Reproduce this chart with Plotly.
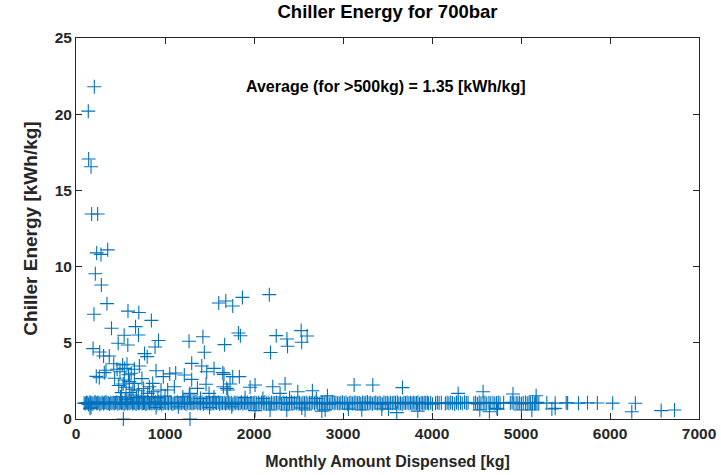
import plotly.graph_objects as go

# Scattered points (x = monthly amount dispensed [kg], y = chiller energy [kWh/kg])
scatter_x = [206, 138, 142, 169, 176, 243, 232, 281, 356, 217, 285, 348, 202,
             584, 706, 847, 399, 669, 541, 702, 474, 582, 927, 888, 192, 266, 310, 374, 770, 800,
             1604, 1683, 1761, 1870, 2172, 1270, 1426, 1442, 1670, 1825, 1847, 2186, 2250, 2370,
             2377, 2530, 2536, 2597,
             424, 524, 573, 461, 494, 547, 656, 712, 318, 337, 262, 228, 899, 981, 1053, 1120,
             1217, 1300, 434, 543, 599, 656, 741, 862, 824, 562, 599, 513, 806, 869, 955, 1030,
             1105, 1273, 618,
             1413, 1469, 1551, 1649, 1663, 1761, 1835, 1300, 1461, 1364, 1656, 1694, 1731, 1705,
             1956, 2012, 2211, 2349, 2293, 2492, 1281, 1495,
             2656, 2825, 3125, 3335, 3668, 4294, 4574, 4910, 5170,
             480, 530, 640, 700, 760, 590, 620, 500, 680, 740, 560, 850, 920, 1000, 1200, 1400,
             1550, 1900, 2100, 2400, 2700,
             169, 532, 1281, 2012, 2181, 2368, 2574, 2537, 2762, 2800, 3061, 3211, 3436, 3511,
             3604, 3840, 4537, 4645, 4736, 5005, 5122, 5347, 5384, 4729, 6245, 6575, 6725,
             157, 900, 1150, 1500, 1750]
scatter_y = [21.8, 20.2, 17.06, 16.55, 13.45, 13.45, 10.9, 10.8, 11.1, 9.53, 8.79, 7.57, 6.87,
             7.08, 6.99, 6.47, 5.95, 6.06, 5.5, 5.51, 4.97, 4.86, 5.15, 4.72, 4.62, 4.4, 4.13, 4.13, 4.29, 4.09,
             7.61, 7.74, 7.41, 7.98, 8.16, 5.1, 5.4, 4.38, 4.88, 5.64, 5.46, 4.36, 5.47, 5.25,
             4.77, 5.8, 5.04, 5.45,
             3.63, 3.55, 3.59, 3.26, 3.1, 3.32, 3.26, 3.48, 3.04, 3.2, 2.71, 2.8, 3.17, 2.78, 2.96, 3.02,
             2.89, 3.65, 2.67, 2.56, 2.45, 2.34, 2.65, 2.34, 2.12, 2.08, 1.73, 1.73, 1.68, 1.79, 1.9, 1.9,
             2.12, 1.57, 1.57,
             3.48, 3.1, 3.32, 3.04, 2.93, 2.78, 2.78, 2.6, 2.28, 2.01, 2.12, 2.01, 2.3, 1.9,
             2.08, 2.23, 2.12, 2.3, 1.68, 1.79, 1.68, 1.68,
             1.85, 1.52, 2.23, 2.23, 2.06, 1.68, 1.79, 1.64, 1.53,
             2.2, 2.3, 1.95, 1.85, 2.0, 2.9, 3.0, 1.45, 1.4, 1.5, 1.3, 1.45, 1.4, 1.5, 1.45, 1.35,
             1.45, 1.4, 1.35, 1.4, 1.35,
             0.77, 0.0, 0.0, 0.55, 0.59, 0.59, 0.59, 0.72, 0.52, 0.6, 0.65, 0.6, 0.66, 0.66,
             0.42, 0.52, 0.6, 0.48, 0.65, 0.59, 0.59, 0.66, 0.7, 0.7, 0.48, 0.55, 0.59,
             0.7, 0.75, 0.8, 0.75, 0.8]

# Dense band of points near 1 kWh/kg
band_x = [92, 105, 118, 132, 140, 155, 163, 178, 190, 204, 215,
          228, 240, 256, 268, 281, 295, 310, 322, 336, 348,
          362, 375, 390, 404, 418, 430, 445, 458, 470, 486,
          498, 512, 525, 540, 552, 566, 580, 594, 607, 620,
          634, 648, 660, 675, 688, 702, 715, 730, 744, 758,
          770, 785, 798, 812, 826, 840, 853, 868, 880, 895,
          910, 922, 936, 950, 963, 978, 992, 1008, 1025, 1040,
          1058, 1072, 1090, 1105, 1122, 1138, 1155, 1170, 1188, 1204,
          1220, 1236, 1252, 1270, 1285, 1302, 1318, 1335, 1350, 1368,
          1384, 1400, 1417, 1433, 1450, 1466, 1482, 1500, 1515, 1532,
          1548, 1565, 1580, 1598, 1614, 1630, 1646, 1664, 1680, 1696,
          1712, 1728, 1745, 1762, 1778, 1795, 1810, 1828, 1844, 1860,
          1876, 1893, 1910, 1925, 1942, 1958, 1975, 1992, 2010, 2030,
          2048, 2066, 2085, 2104, 2122, 2140, 2160, 2178, 2196, 2215,
          2234, 2252, 2270, 2290, 2308, 2326, 2345, 2364, 2382, 2400,
          2420, 2438, 2456, 2475, 2494, 2512, 2530, 2550, 2568, 2586,
          2605, 2624, 2642, 2660, 2680, 2698, 2716, 2735, 2754, 2772,
          2790, 2810, 2828, 2846, 2865, 2884, 2902, 2920, 2940, 2958,
          2976, 2995, 3015, 3034, 3052, 3070, 3090, 3108, 3126, 3145,
          3164, 3182, 3200, 3220, 3238, 3256, 3275, 3294, 3312, 3330,
          3350, 3368, 3386, 3405, 3424, 3442, 3460, 3480, 3498, 3516,
          3535, 3554, 3572, 3590, 3610, 3628, 3646, 3665, 3684, 3702,
          3720, 3740, 3758, 3775, 3790, 3808, 3825, 3842, 3860, 3878,
          3895, 3912, 3930, 3948, 3962, 3985, 4005, 4040, 4060, 4080,
          4105, 4150, 4170, 4190, 4210, 4230, 4255, 4275, 4295, 4320,
          4340, 4365, 4385, 4405, 4470, 4490, 4510, 4530, 4550, 4575,
          4595, 4615, 4640, 4660, 4685, 4705, 4725, 4745, 4765, 4805,
          4880, 4900, 4920, 4945, 4965, 4985, 5005, 5025, 5050, 5070,
          5090, 5105, 5130, 5150, 5165, 5180, 5200, 5290, 5384, 5508,
          5524, 5646, 5747, 5858, 6030, 6285]
band_y = [1.04, 1.02, 1.08, 1.05, 0.95, 1.10, 1.04, 1.07, 0.99, 1.06, 1.12,
          1.03, 1.05, 1.09, 0.97, 1.04, 1.08, 1.01, 1.06, 1.11, 1.03,
          1.05, 0.98, 1.07, 1.04, 1.09, 1.02, 1.06, 1.10, 1.00, 1.05,
          1.08, 1.03, 1.07, 0.96, 1.05, 1.09, 1.02, 1.06, 1.04, 1.11,
          1.01, 1.07, 1.05, 0.99, 1.08, 1.03, 1.06, 1.10, 1.02, 1.05,
          1.07, 0.98, 1.04, 1.09, 1.03, 1.06, 1.01, 1.08, 1.05, 1.12,
          1.00, 1.06, 1.04, 1.07, 0.97, 1.05, 1.09, 1.03, 1.06, 1.02,
          1.08, 1.04, 0.99, 1.07, 1.05, 1.10, 1.02, 1.06, 1.03, 1.08,
          1.05, 0.97, 1.09, 1.04, 1.06, 1.01, 1.07, 1.05, 1.11, 1.03,
          1.06, 1.02, 1.08, 0.98, 1.05, 1.09, 1.04, 1.07, 1.00, 1.06,
          1.03, 1.08, 1.05, 1.10, 0.99, 1.06, 1.04, 1.07, 1.02, 1.05,
          1.09, 1.03, 1.06, 0.96, 1.08, 1.04, 1.07, 1.01, 1.05, 1.10,
          1.02, 1.06, 1.04, 1.08, 0.98, 1.05, 1.07, 1.03, 1.09, 1.04,
          1.06, 1.01, 1.08, 1.05, 1.11, 1.02, 1.06, 0.99, 1.07, 1.04,
          1.05, 1.09, 1.03, 1.06, 1.00, 1.08, 1.04, 1.07, 0.97, 1.05,
          1.10, 1.03, 1.06, 1.02, 1.08, 1.05, 0.98, 1.07, 1.04, 1.09,
          1.01, 1.06, 1.05, 1.08, 1.03, 1.10, 1.04, 0.99, 1.07, 1.05,
          1.02, 1.08, 1.06, 0.97, 1.04, 1.09, 1.03, 1.07, 1.05, 1.01,
          1.06, 1.10, 1.04, 1.08, 0.98, 1.05, 1.07, 1.02, 1.06, 1.09,
          1.03, 1.05, 1.00, 1.08, 1.04, 1.07, 1.11, 1.03, 1.06, 0.99,
          1.05, 1.08, 1.02, 1.06, 1.04, 0.97, 1.09, 1.05, 1.07, 1.01,
          1.06, 1.03, 1.08, 1.05, 1.10, 1.02, 1.04, 0.98, 1.07, 1.05,
          1.09, 1.03, 1.06, 1.01, 1.08, 1.04, 1.05, 1.10, 0.99, 1.06,
          1.03, 1.07, 1.05, 1.09, 1.02, 1.06, 0.97, 1.04, 1.08, 1.05,
          1.07, 1.01, 1.06, 1.03, 1.09, 1.05, 0.98, 1.08, 1.04, 1.06,
          1.02, 1.10, 1.05, 1.07, 1.03, 1.06, 0.99, 1.08, 1.04, 1.05,
          1.09, 1.02, 1.06, 1.04, 1.07, 1.01, 1.05, 1.08, 1.03, 1.06,
          1.05, 1.09, 1.02, 1.07, 1.04, 1.06, 0.98, 1.05, 1.08, 1.03,
          1.06, 1.04, 1.07, 1.02, 1.05, 1.09, 1.03, 1.05, 1.04, 1.06,
          1.05, 1.04, 1.06, 1.05, 1.04, 1.03]

title_text = "Chiller Energy for 700bar"
x_title = "Monthly Amount Dispensed [kg]"
y_title = "Chiller Energy [kWh/kg]"
annotation_text = "Average (for >500kg) = 1.35 [kWh/kg]"
x_ticks = [0, 1000, 2000, 3000, 4000, 5000, 6000, 7000]
y_ticks = [0, 5, 10, 15, 20, 25]

blue = "#0072BD"
axis_col = "#262626"
FONT = "Liberation Sans, Arial, sans-serif"

marker = dict(symbol="cross-thin", size=10, color=blue, line=dict(color=blue, width=1.1))

fig = go.Figure()
fig.add_trace(go.Scatter(x=band_x + scatter_x, y=band_y + scatter_y, mode="markers",
                         marker=marker, cliponaxis=False, showlegend=False))

axis_common = dict(showline=True, linecolor=axis_col, linewidth=1, mirror="ticks",
                   ticks="inside", ticklen=6, tickcolor=axis_col, tickwidth=1,
                   showgrid=False, zeroline=False, automargin=False,
                   tickfont=dict(family=FONT, size=15.5, color=axis_col, weight="bold"))

fig.update_layout(
    width=721, height=475,
    margin=dict(l=76, r=22, t=38, b=56),
    paper_bgcolor="white", plot_bgcolor="white",
    title=dict(text=title_text, x=(76 + 699) / 2 / 721, xanchor="center", xref="container",
               y=1 - 12 / 475, yref="container", yanchor="middle",
               font=dict(family=FONT, size=18.5, color="black", weight="bold")),
    xaxis=dict(range=[0, 7000], tickvals=x_ticks,
               title=dict(text=x_title, standoff=15,
                          font=dict(family=FONT, size=16, color=axis_col, weight="bold")),
               **axis_common),
    yaxis=dict(range=[0, 25], tickvals=y_ticks,
               title=dict(text=y_title, standoff=12,
                          font=dict(family=FONT, size=19, color=axis_col, weight="bold")),
               **axis_common),
    annotations=[dict(x=1888, y=21.8, xref="x", yref="y", text=annotation_text,
                      showarrow=False, xanchor="left", yanchor="middle",
                      font=dict(family=FONT, size=16, color="black", weight="bold"))],
)

fig.write_html("out.html", config={"displayModeBar": False},
               post_script="document.body.style.margin='0px';")
